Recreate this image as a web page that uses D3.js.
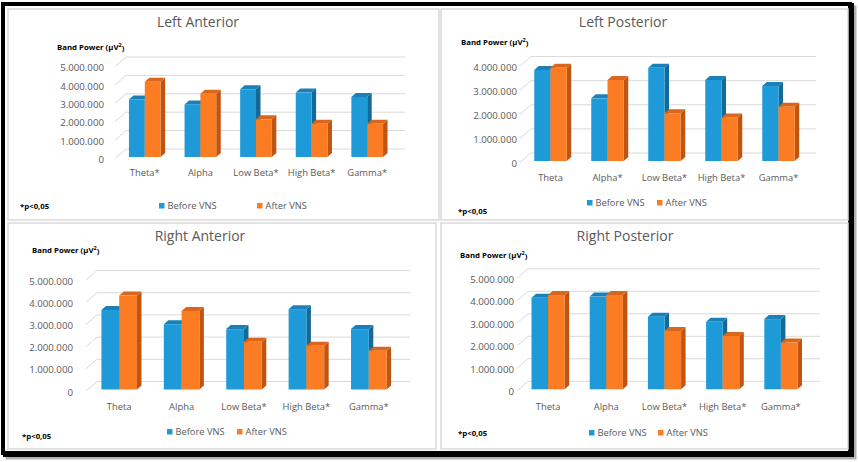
<!DOCTYPE html>
<html>
<head>
<meta charset="utf-8">
<script src="https://cdn.jsdelivr.net/npm/d3@7"></script>
<style>
  html, body { margin: 0; padding: 0; background: #fff; }
  svg { display: block; font-family: "Open Sans", sans-serif; }
</style>
</head>
<body>
<svg id="chart" width="858" height="462"></svg>
<script>
// band power values
var bandsLA = ['Theta*', 'Alpha', 'Low Beta*', 'High Beta*', 'Gamma*'];
var beforeLA = [3130000, 2860000, 3680000, 3500000, 3260000];
var afterLA = [4090000, 3440000, 2050000, 1810000, 1810000];

var bandsLP = ['Theta', 'Alpha*', 'Low Beta*', 'High Beta*', 'Gamma*'];
var beforeLP = [3780000, 2600000, 3870000, 3360000, 3110000];
var afterLP = [3870000, 3360000, 1980000, 1810000, 2250000];

var bandsRA = ['Theta', 'Alpha', 'Low Beta*', 'High Beta*', 'Gamma*'];
var beforeRA = [3580000, 2940000, 2720000, 3620000, 2720000];
var afterRA = [4230000, 3540000, 2150000, 1970000, 1750000];

var bandsRP = ['Theta', 'Alpha', 'Low Beta*', 'High Beta*', 'Gamma*'];
var beforeRP = [4070000, 4120000, 3230000, 3000000, 3120000];
var afterRP = [4190000, 4190000, 2590000, 2370000, 2080000];

var ticks5 = [0, 1000000, 2000000, 3000000, 4000000, 5000000];
var ticks4 = [0, 1000000, 2000000, 3000000, 4000000];

var seriesNames = ['Before VNS', 'After VNS'];

var blue = '#1f9ad9', blueSide = '#136a99', blueTop = '#1a80b8';
var orange = '#fb7c22', orangeSide = '#bf5510', orangeTop = '#d9661a';

var fmt = d3.formatLocale({ decimal: ',', thousands: '.', grouping: [3], currency: ['', ''] }).format(',');

var svg = d3.select('#chart');

// outer frame, heavier on the right and bottom
svg.append('rect').attr('x', 7).attr('y', 7).attr('width', 848).attr('height', 451)
    .attr('fill', 'none').attr('stroke', '#b0b0b0').attr('stroke-width', 3);
svg.append('rect').attr('x', 5).attr('y', 5).attr('width', 847).attr('height', 450)
    .attr('fill', 'none').attr('stroke', '#000').attr('stroke-width', 4);
svg.append('rect').attr('x', 3).attr('y', 4).attr('width', 847).attr('height', 449)
    .attr('fill', '#fff').attr('stroke', '#000').attr('stroke-width', 4);

// panel layout
var panels = [
    { title: 'Left Anterior', bands: bandsLA, before: beforeLA, after: afterLA, ticks: ticks5,
      box: [8, 9, 431, 211], x0: 117, x1: 395, wallEnd: 405, y0: 157, yTop: 65,
      labelX: 104, catY: 173, legY: 206, legX: [159, 257], note: [20, 206],
      titlePos: [198, 22], bp: [57, 47] },
    { title: 'Left Posterior', bands: bandsLP, before: beforeLP, after: afterLP, ticks: ticks4,
      box: [441, 9, 407, 211], x0: 522, x1: 807, wallEnd: 816, y0: 161, yTop: 64.6,
      labelX: 517, catY: 178, legY: 203, legX: [587, 657], note: [458, 211],
      titlePos: [623, 22], bp: [461, 42] },
    { title: 'Right Anterior', bands: bandsRA, before: beforeRA, after: afterRA, ticks: ticks5,
      box: [8, 223, 428, 226], x0: 88, x1: 400, wallEnd: 410, y0: 389.5, yTop: 278.5,
      labelX: 73, catY: 407, legY: 432, legX: [167, 237], note: [22, 436],
      titlePos: [200, 236], bp: [32, 250] },
    { title: 'Right Posterior', bands: bandsRP, before: beforeRP, after: afterRP, ticks: ticks5,
      box: [441, 223, 407, 226], x0: 519, x1: 810, wallEnd: 820, y0: 389.3, yTop: 276.8,
      labelX: 514, catY: 407, legY: 433, legX: [589, 658], note: [458, 433],
      titlePos: [625, 236], bp: [460, 255] }
];

var wallDx = 11, wallDy = -8; // depth of the back wall
var barDx = 4.5, barDy = -4;  // depth of each column

panels.forEach(function (p) {
    var g = svg.append('g');

    g.append('rect').attr('x', p.box[0]).attr('y', p.box[1])
        .attr('width', p.box[2]).attr('height', p.box[3])
        .attr('fill', '#fff').attr('stroke', '#d9d9d9').attr('stroke-width', 1.5);

    var x = d3.scaleBand().domain(p.bands).range([p.x0, p.x1]);
    var yMax = p.ticks[p.ticks.length - 1];
    var y = d3.scaleLinear().domain([0, yMax]).range([p.y0, p.yTop]);

    // gridlines on side and back wall
    var grid = g.append('g');
    p.ticks.forEach(function (t) {
        var yy = y(t);
        grid.append('polyline')
            .attr('points', [[p.x0 - 2, yy + 1.5], [p.x0 - 2 + wallDx, yy + wallDy], [p.wallEnd, yy + wallDy]].join(' '))
            .attr('fill', 'none').attr('stroke', '#d9d9d9').attr('stroke-width', 1);
    });

    // value axis labels
    var yAxis = g.append('g')
        .attr('transform', 'translate(' + p.labelX + ',' + 2.5 + ')')
        .call(d3.axisLeft(y).tickValues(p.ticks).tickFormat(fmt).tickSize(0).tickPadding(0));
    yAxis.select('.domain').remove();
    yAxis.selectAll('text').attr('fill', '#595959').style('font-size', '9.7px')
        .style('font-family', '"Open Sans", sans-serif');

    // category labels
    var xAxis = g.append('g')
        .attr('transform', 'translate(0,' + p.catY + ')')
        .call(d3.axisBottom(x).tickSize(0).tickPadding(0));
    xAxis.select('.domain').remove();
    xAxis.selectAll('text').attr('fill', '#595959').attr('dy', '0.35em').style('font-size', '9.4px')
        .style('font-family', '"Open Sans", sans-serif');

    // 3d columns
    var bw = x.step() * 0.285;
    var flat = [];
    p.bands.forEach(function (b, i) {
        flat.push({ band: b, s: 0, v: p.before[i] }, { band: b, s: 1, v: p.after[i] });
    });

    var cols = g.selectAll('.col').data(flat).enter().append('g').attr('class', 'col');
    function left(d) { return x(d.band) + x.bandwidth() / 2 - bw + d.s * bw; }

    cols.append('polygon')
        .attr('points', function (d) {
            var l = left(d), r = l + bw, t = y(d.v), b = y(0);
            return [[r, b], [r, t], [r + barDx, t + barDy], [r + barDx, b + barDy]].join(' ');
        })
        .attr('fill', function (d) { return d.s ? orangeSide : blueSide; });
    cols.append('polygon')
        .attr('points', function (d) {
            var l = left(d), r = l + bw, t = y(d.v);
            return [[l, t], [r, t], [r + barDx, t + barDy], [l + barDx, t + barDy]].join(' ');
        })
        .attr('fill', function (d) { return d.s ? orangeTop : blueTop; });
    cols.append('rect')
        .attr('x', left)
        .attr('y', function (d) { return y(d.v); })
        .attr('width', bw)
        .attr('height', function (d) { return y(0) - y(d.v); })
        .attr('fill', function (d) { return d.s ? orange : blue; });

    // titles and notes
    g.append('text').attr('x', p.titlePos[0]).attr('y', p.titlePos[1]).attr('dy', '0.35em')
        .attr('text-anchor', 'middle').attr('fill', '#595959').style('font-size', '14px')
        .text(p.title);
    var bp = g.append('text').attr('x', p.bp[0]).attr('y', p.bp[1]).attr('dy', '0.35em')
        .attr('fill', '#000').style('font-size', '7.8px').style('font-weight', 'bold')
        .text('Band Power (µV');
    bp.append('tspan').attr('dy', '-0.45em').style('font-size', '5.5px').text('2');
    bp.append('tspan').attr('dy', '0.45em').text(')');

    g.append('text').attr('x', p.note[0]).attr('y', p.note[1]).attr('dy', '0.35em')
        .attr('fill', '#000').style('font-size', '7.8px').style('font-weight', 'bold')
        .text('*p<0,05');

    var leg = g.selectAll('.leg').data(seriesNames).enter().append('g')
        .attr('transform', function (d, i) { return 'translate(' + p.legX[i] + ',' + p.legY + ')'; });
    leg.append('rect').attr('x', 0).attr('y', -3).attr('width', 5.5).attr('height', 5.5)
        .attr('fill', function (d, i) { return i ? orange : blue; });
    leg.append('text').attr('x', 8.5).attr('dy', '0.35em').attr('fill', '#595959')
        .style('font-size', '9.3px').text(function (d) { return d; });
});
</script>
</body>
</html>
